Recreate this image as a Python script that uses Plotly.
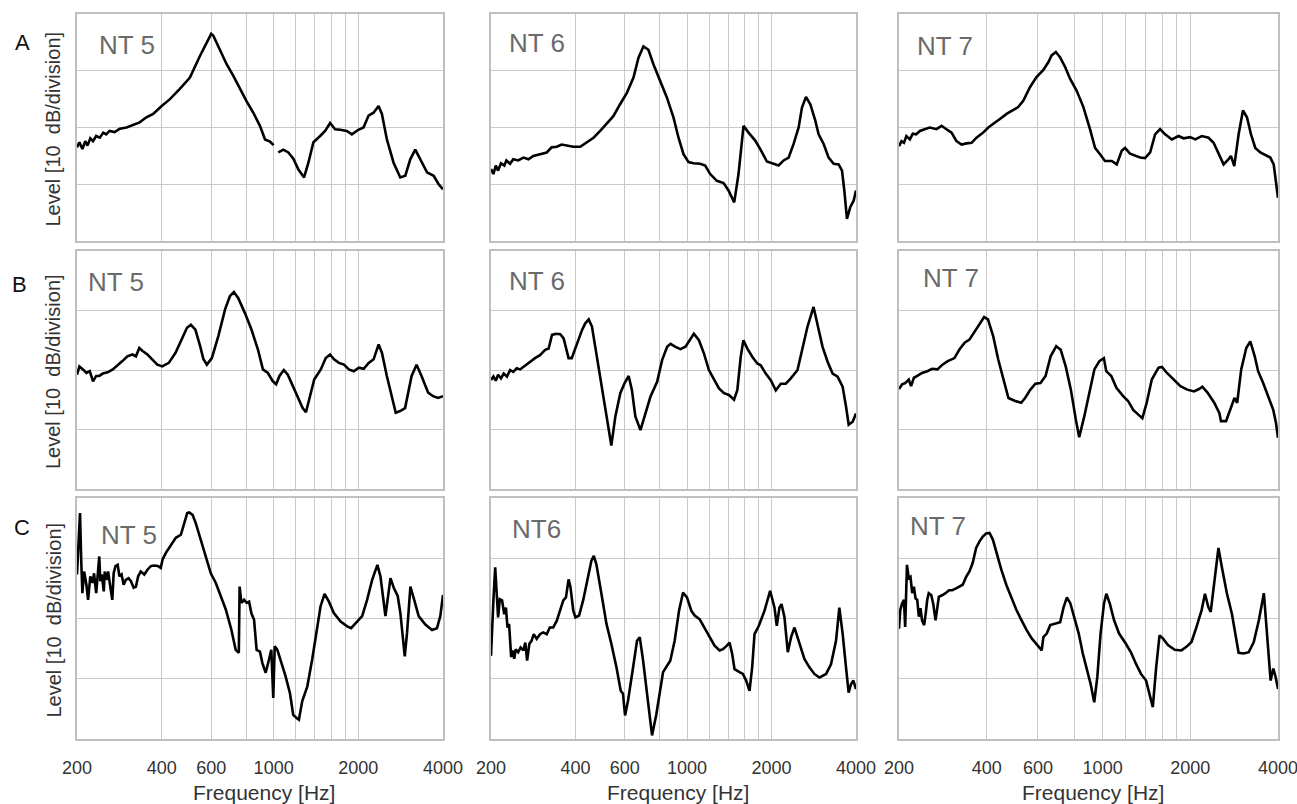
import math
import plotly.graph_objects as go

# ---------------- data (frequency in Hz, level in dB; 10 dB per grid division) ----------------
A5_f = [200,204,209,214,218,223,228,234,241,248,254,261,272,284,300,317,334,353,373,400,428,464,504,547,578,600,610,644,680,719,759,800,847,894,932,971,1000,None,1039,1083,1128,1175,1225,1283,1329,1385,1463,1524,1588,1654,1724,1820,1897,2000,2087,2175,2266,2360,2426,2527,2669,2820,2938,3060,3188,3322,3510,3706,3860,4000]
A5_db = [16.5,17.4,16.2,17.6,16.8,18.1,17.6,18.5,18.2,19.1,18.8,19.4,19.2,19.8,20.0,20.4,20.9,21.8,22.4,23.8,25.0,26.8,28.8,32.6,35.0,36.5,36.2,33.8,31.2,29.1,26.8,24.7,22.6,20.3,17.9,17.5,16.9,None,15.6,16.1,15.6,14.5,12.6,11.2,13.8,17.4,18.5,19.4,20.8,19.7,19.6,19.4,18.8,19.6,20.0,22.1,22.6,23.8,22.4,17.9,13.8,11.2,11.5,14.4,16.1,14.4,12.1,11.5,10.0,9.1]

A6_f = [200,204,208,212,217,223,227,234,240,250,261,272,283,299,316,329,343,357,372,393,416,439,464,490,517,546,577,610,644,671,699,728,759,802,847,894,932,971,1012,1054,1113,1160,1209,1277,1349,1405,1472,1525,1589,1656,1749,1823,1925,2034,2119,2208,2301,2397,2498,2567,2653,2749,2864,2943,3067,3195,3330,3470,3566,3634,3714,3818,3924,4000]
A6_db = [12.7,11.8,13.3,12.4,13.7,13.3,14.2,13.6,14.4,14.2,14.7,14.4,15.0,15.3,15.6,16.5,16.6,17.0,16.8,16.6,16.6,17.4,18.2,19.4,20.6,22.0,24.1,26.1,28.8,32.3,34.3,33.7,31.1,28.2,25.3,21.8,18.2,15.3,13.9,13.7,13.6,13.3,11.8,10.6,10.2,8.9,6.8,11.8,20.3,19.1,17.7,16.2,14.0,13.6,13.3,14.2,14.7,17.1,20.0,23.5,25.4,24.1,21.2,18.8,17.1,14.7,13.6,13.5,12.4,8.9,3.9,6.0,7.1,8.9]

A7_f = [200,204,208,212,218,223,229,236,245,255,269,280,291,303,315,328,341,355,369,389,405,421,444,468,493,513,534,563,593,625,651,668,691,714,743,773,814,859,905,942,980,1019,1075,1118,1163,1194,1242,1293,1345,1399,1456,1514,1575,1639,1728,1822,1895,1998,2079,2191,2310,2404,2501,2602,2707,2757,2831,2930,3032,3130,3231,3343,3478,3618,3764,3866,3938,4000]
A7_db = [16.7,17.6,17.3,18.5,17.9,18.9,18.8,19.4,19.7,20.0,19.7,20.3,19.7,19.1,17.6,17.0,17.2,17.3,18.2,19.1,20.0,20.6,21.5,22.4,23.0,23.6,24.7,27.1,28.9,30.1,31.5,32.7,33.3,32.4,30.7,28.6,26.5,23.6,19.7,16.4,15.3,14.1,14.1,13.5,15.9,16.4,15.4,15.0,14.7,14.6,15.6,18.8,19.7,18.8,17.9,18.5,18.1,18.3,17.9,18.5,18.2,17.3,15.3,13.5,14.4,15.0,13.2,18.8,23.0,21.8,18.8,16.4,15.6,15.1,14.7,13.5,9.9,7.6]

B5_f = [200,204,210,216,222,228,234,240,247,257,268,279,290,302,315,324,333,342,356,370,386,402,424,448,473,492,508,527,548,563,579,603,636,672,699,722,748,790,834,880,916,954,994,1021,1049,1087,1123,1169,1217,1268,1303,1356,1394,1471,1532,1587,1639,1707,1778,1851,1928,2008,2091,2177,2267,2361,2426,2526,2631,2717,2815,2932,3094,3222,3355,3542,3688,3841,4000]
B5_db = [19.2,20.6,20.1,19.5,19.8,18.1,19.0,19.0,19.4,19.6,20.1,20.9,21.5,22.3,22.6,22.3,23.7,23.2,22.6,21.8,20.9,20.6,21.2,22.9,25.4,27.1,27.6,26.8,24.0,21.8,20.9,22.0,25.7,30.2,32.4,33.1,32.1,29.6,26.8,23.4,20.1,19.5,18.1,17.6,19.0,20.0,19.2,17.3,15.6,13.6,12.9,16.2,18.4,20.1,22.0,22.6,21.8,21.2,20.9,20.1,19.8,20.4,20.2,21.2,21.8,24.3,22.9,19.0,15.6,12.8,13.1,13.6,19.0,20.9,19.0,16.2,15.6,15.3,15.6]

B6_f = [200,204,208,212,217,222,228,234,240,247,254,265,276,287,299,312,321,330,341,353,363,378,388,405,422,433,446,458,477,497,518,537,555,578,599,619,636,654,682,710,740,782,815,849,873,909,947,987,1020,1057,1102,1148,1196,1247,1299,1354,1410,1470,1510,1553,1587,1640,1709,1780,1830,1907,1987,2071,2158,2248,2343,2475,2579,2687,2823,2918,3040,3168,3301,3439,3584,3684,3767,3892,4000]
B6_db = [18.3,18.9,18.2,19.2,18.6,19.4,18.9,20.0,19.7,20.3,20.1,20.8,21.4,22.0,22.5,23.4,23.6,25.9,26.1,26.0,25.3,22.0,22.0,24.5,26.7,27.8,28.5,27.3,22.2,17.2,12.2,7.3,12.2,16.1,17.8,19.0,16.6,12.2,9.9,12.7,15.5,18.0,21.7,23.9,24.4,23.9,23.5,23.9,25.0,26.1,25.0,22.8,20.0,18.3,16.9,16.1,15.8,15.0,16.6,22.2,25.0,23.6,22.2,21.1,20.8,19.4,18.3,16.6,17.7,17.7,18.6,20.0,23.9,27.3,30.6,27.8,23.9,21.4,19.4,18.9,17.2,13.9,10.8,11.3,12.7]

B7_f = [200,205,210,216,220,225,231,240,250,260,271,282,294,310,322,336,349,364,378,392,404,421,438,456,475,501,525,542,565,588,612,637,663,693,718,747,778,809,831,865,900,937,975,1010,1029,1071,1115,1176,1223,1274,1326,1369,1417,1475,1556,1598,1663,1754,1850,1952,2059,2143,2200,2291,2416,2515,2549,2653,2761,2835,2897,2991,3113,3214,3328,3418,3557,3703,3853,3937,4000]
B7_db = [16.8,17.6,17.8,18.4,17.3,18.7,19.0,19.5,19.8,20.2,20.1,20.9,21.5,22.0,23.4,24.6,25.1,26.5,27.9,28.9,28.5,25.7,21.8,18.4,15.3,14.8,14.5,15.3,16.7,17.7,17.8,19.0,22.3,24.0,23.4,20.6,16.7,11.7,8.7,12.2,16.2,20.1,21.5,22.0,19.8,19.0,17.0,15.6,14.8,13.3,12.5,11.9,14.5,18.4,20.4,20.5,19.5,18.4,17.3,16.7,16.4,16.8,17.2,16.2,14.5,12.8,11.4,11.4,13.9,15.3,14.5,20.1,23.7,24.8,22.3,19.8,17.8,15.6,13.3,11.1,8.6]

C5_f = [200,203,205,207,209,212,216,219,223,227,230,234,237,240,242,245,249,251,256,258,263,267,270,274,279,283,288,293,298,305,311,318,324,330,337,347,356,366,376,388,397,403,414,431,449,468,481,493,501,515,529,551,574,598,623,649,676,708,733,752,757,768,785,802,818,833,852,870,894,912,937,963,981,997,1009,1031,1059,1103,1143,1174,1207,1230,1264,1317,1371,1429,1468,1517,1572,1637,1731,1826,1886,1954,2064,2149,2240,2338,2397,2497,2602,2673,2762,2822,2925,2980,3063,3160,3278,3462,3656,3808,3913,4000]
C5_db = [27.3,33.6,37.5,29.8,24.2,27.8,25.6,23.1,27.0,25.9,27.5,24.2,27.0,30.3,26.2,27.3,24.5,27.8,26.4,27.8,25.1,23.1,27.5,28.7,28.9,27.0,27.3,25.6,26.4,26.7,26.2,25.1,25.3,27.0,27.8,27.3,28.1,28.7,28.8,28.7,28.4,29.8,30.9,32.2,33.4,33.9,35.8,37.5,37.6,37.2,35.8,33.1,30.3,27.5,25.9,23.7,21.5,18.1,14.8,14.3,25.3,22.6,23.1,22.6,22.8,20.9,19.8,14.8,14.5,12.6,11.0,13.2,14.8,6.8,15.4,14.8,13.2,10.4,7.6,4.0,3.5,3.2,6.3,8.7,13.2,18.1,22.0,24.1,22.8,20.9,19.5,18.7,18.4,19.2,20.4,23.1,26.4,28.9,27.0,20.4,26.7,25.1,23.7,20.9,13.7,17.6,25.3,23.1,20.4,19.0,18.1,18.4,20.4,23.9]

C6_f = [200,202,204,207,209,212,215,219,223,226,229,232,236,239,242,245,250,255,261,265,269,274,279,284,291,299,307,316,324,333,343,352,362,370,378,384,393,400,412,426,444,456,465,475,495,516,537,560,580,591,601,616,642,663,678,697,720,750,777,799,821,855,871,903,936,967,999,1035,1064,1108,1154,1203,1253,1306,1342,1386,1417,1448,1476,1538,1581,1624,1669,1706,1739,1802,1888,1977,2049,2088,2134,2170,2224,2285,2348,2414,2514,2619,2729,2843,2962,3129,3258,3395,3489,3586,3685,3766,3839,3914,4000]
C6_db = [13.8,17.4,23.0,28.5,24.6,20.2,23.2,23.0,20.7,21.8,18.5,19.1,13.6,14.7,13.3,14.9,14.4,15.2,14.7,16.0,13.0,15.8,16.3,17.4,16.6,17.4,17.7,17.4,18.5,18.5,19.6,21.3,23.0,23.5,26.5,25.2,21.3,20.2,20.5,23.0,27.4,29.6,30.4,29.0,24.1,19.1,15.8,11.9,8.0,7.5,3.9,6.4,11.9,16.3,16.9,13.0,7.5,0.6,4.1,8.0,11.1,12.4,13.0,16.3,21.3,24.3,23.5,21.3,20.5,19.9,18.5,17.1,15.5,14.7,14.9,15.5,16.0,14.1,11.6,11.1,10.8,9.7,8.0,11.9,17.4,18.8,21.3,24.6,21.8,18.8,21.8,22.4,20.2,14.4,16.9,18.5,15.8,13.3,11.9,10.8,10.2,10.8,12.4,16.3,21.8,17.4,11.9,7.7,9.1,9.7,8.3]

C7_f = [200,202,205,208,210,213,216,219,222,225,228,231,234,237,240,244,247,250,253,258,262,267,271,274,282,289,297,305,314,322,331,340,349,358,368,378,388,398,409,420,432,449,467,486,506,527,548,571,594,618,626,643,661,687,715,735,754,775,796,828,855,885,909,936,959,984,1011,1030,1058,1095,1139,1202,1251,1301,1354,1410,1448,1487,1527,1568,1610,1676,1768,1864,1940,2019,2101,2187,2246,2306,2350,2413,2498,2565,2670,2778,2853,2930,3049,3173,3303,3438,3577,3654,3723,3773,3854,3926,4000]
C7_db = [18.3,21.4,22.5,23.1,18.6,28.9,26.7,26.9,24.2,25.3,23.3,23.1,20.3,21.7,19.7,18.9,20.8,23.1,24.2,23.9,22.5,19.7,21.9,23.6,23.9,24.2,24.7,24.7,25.0,25.3,25.6,26.9,27.8,29.2,31.7,32.8,33.6,34.1,34.2,33.1,30.8,28.1,25.6,23.6,21.4,19.7,18.1,16.7,15.6,14.7,16.9,17.5,18.9,19.2,19.4,21.9,23.5,22.5,20.3,17.5,14.2,11.4,9.2,6.1,10.3,17.5,22.5,24.1,22.5,19.7,17.5,15.8,14.4,12.5,10.8,9.7,7.5,5.3,11.9,17.2,16.7,15.6,14.8,14.7,15.3,16.1,18.6,21.4,24.1,21.9,21.1,25.3,31.7,28.6,24.2,20.8,17.5,14.3,14.2,14.4,16.1,19.7,24.2,18.6,12.5,9.7,11.7,10.3,8.3]

ROW_LETTERS = ["A", "B", "C"]
PANEL_TITLES = [["NT 5", "NT 6", "NT 7"],
                ["NT 5", "NT 6", "NT 7"],
                ["NT 5", "NT6", "NT 7"]]
SERIES = [[(A5_f, A5_db), (A6_f, A6_db), (A7_f, A7_db)],
          [(B5_f, B5_db), (B6_f, B6_db), (B7_f, B7_db)],
          [(C5_f, C5_db), (C6_f, C6_db), (C7_f, C7_db)]]

X_GRID = [200, 400, 600, 800, 1000, 1200, 1400, 1600, 1800, 2000, 4000]
X_TEXT = ["200", "400", "600", "", "1000", "", "", "", "", "2000", "4000"]
Y_GRID = [0, 10, 20, 30, 40]
X_TITLE = "Frequency [Hz]"
Y_TITLE = "Level [10  dB/division]"

# ---------------- layout (pixel geometry) ----------------
W, H = 1297, 804
COL_PX = [(77, 443), (491, 856), (899, 1278)]
ROW_PX = [(14, 241), (251, 489), (498, 739)]
TITLE_POS = [[(97, 45), (507, 43), (915, 46)],
             [(86, 282), (507, 281), (921, 278)],
             [(99, 535), (510, 529), (908, 526)]]
LETTER_POS = [(22, 43), (19, 284), (22, 527)]
YLAB_X = 53

def px(x):
    return x / W

def py(y):
    return 1 - y / H

FONT = "Liberation Sans, Arial, sans-serif"
GRID = "#c9c9c9"
FRAME = "#bfbfbf"

fig = go.Figure()
layout = dict(width=W, height=H,
              margin=dict(l=0, r=0, t=0, b=0, pad=0, autoexpand=False),
              paper_bgcolor="white", plot_bgcolor="white", showlegend=False,
              font=dict(family=FONT))
annotations = []

n = 0
for r in range(3):
    for c in range(3):
        n += 1
        sfx = "" if n == 1 else str(n)
        f, db = SERIES[r][c]
        fig.add_trace(go.Scatter(x=f, y=db, mode="lines",
                                 line=dict(color="black", width=2.6),
                                 connectgaps=False, hoverinfo="skip",
                                 xaxis="x" + sfx, yaxis="y" + sfx))
        x0, x1 = COL_PX[c]
        y0, y1 = ROW_PX[r]
        layout["xaxis" + sfx] = dict(
            domain=[px(x0), px(x1)], anchor="y" + sfx, type="log",
            range=[math.log10(200), math.log10(4000)],
            tickmode="array", tickvals=X_GRID, ticktext=X_TEXT,
            showticklabels=(r == 2), ticks="outside" if r == 2 else "",
            ticklen=12, tickcolor="rgba(0,0,0,0)", automargin=False,
            ticklabeloverflow="allow",
            tickfont=dict(size=18, color="#333333", family=FONT),
            showgrid=True, gridcolor=GRID, gridwidth=1,
            showline=True, mirror=True, linecolor=FRAME, linewidth=1.5,
            zeroline=False, fixedrange=True)
        layout["yaxis" + sfx] = dict(
            domain=[py(y1), py(y0)], anchor="x" + sfx,
            range=[0, 40], tickmode="array", tickvals=Y_GRID,
            showticklabels=False, ticks="", automargin=False,
            showgrid=True, gridcolor=GRID, gridwidth=1,
            showline=True, mirror=True, linecolor=FRAME, linewidth=1.5,
            zeroline=False, fixedrange=True)
        tx, ty = TITLE_POS[r][c]
        annotations.append(dict(text=PANEL_TITLES[r][c], xref="paper", yref="paper",
                                x=px(tx), y=py(ty), xanchor="left", yanchor="middle",
                                showarrow=False,
                                font=dict(size=26, color="#6a6a6a", family=FONT)))

for r in range(3):
    lx, ly = LETTER_POS[r]
    annotations.append(dict(text=ROW_LETTERS[r], xref="paper", yref="paper",
                            x=px(lx), y=py(ly), xanchor="center", yanchor="middle",
                            showarrow=False, font=dict(size=22, color="#111111", family=FONT)))
    y0, y1 = ROW_PX[r]
    annotations.append(dict(text=Y_TITLE, xref="paper", yref="paper",
                            x=px(YLAB_X), y=py((y0 + y1) / 2 + 2), xanchor="center", yanchor="middle",
                            textangle=-90, showarrow=False,
                            font=dict(size=20, color="#333333", family=FONT)))

for c in range(3):
    x0, x1 = COL_PX[c]
    annotations.append(dict(text=X_TITLE, xref="paper", yref="paper",
                            x=px((x0 + x1) / 2 + 4), y=py(792), xanchor="center", yanchor="middle",
                            showarrow=False, font=dict(size=21, color="#333333", family=FONT)))

layout["annotations"] = annotations
fig.update_layout(**layout)
fig.write_html("out.html")
